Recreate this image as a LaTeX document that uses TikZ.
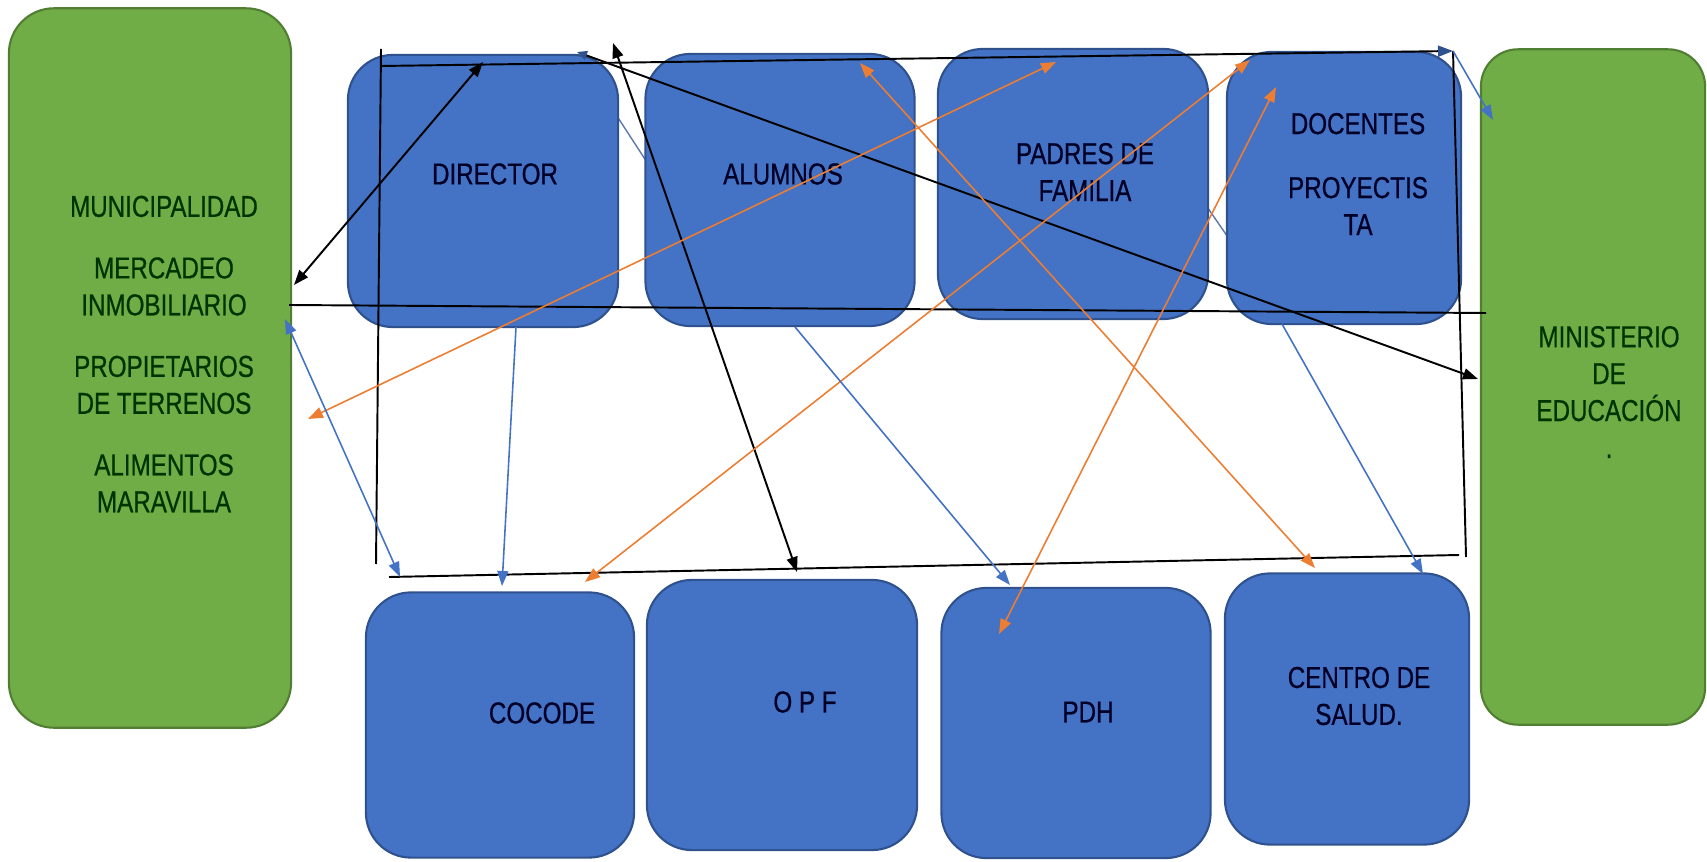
\documentclass[tikz,border=0pt]{standalone}
\usepackage{fontspec}
\setmainfont{Liberation Sans}[FakeStretch=0.8, FakeBold=0.6]
\usetikzlibrary{arrows.meta}
\definecolor{boxblue}{RGB}{68,114,196}
\definecolor{boxnavy}{RGB}{47,82,143}
\definecolor{boxgreen}{RGB}{112,173,71}
\definecolor{greenedge}{RGB}{80,126,50}
\definecolor{lineorange}{RGB}{237,125,49}
\definecolor{lineblue}{RGB}{68,114,196}

\begin{document}
\begin{tikzpicture}
      [
        x=0.01cm, y=-0.01cm,
        bbox/.style={rectangle, rounded corners=0.45cm, draw=boxnavy, fill=boxblue, line width=0.6pt},
        gbox/.style={rectangle, rounded corners=0.45cm, draw=greenedge, fill=boxgreen, line width=0.6pt},
        txt/.style={font=\fontsize{8.6}{10.5}\selectfont, align=center, text=black!85!blue},
        blk/.style={draw=black, line width=0.55pt},
        org/.style={draw=lineorange, line width=0.45pt},
        blu/.style={draw=lineblue, line width=0.45pt},
        hid/.style={draw=lineblue!60!gray, line width=0.4pt},
        tri/.tip={Triangle[length=0.15cm, width=0.11cm]},
        stri/.tip={Triangle[length=0.1cm, width=0.09cm]}
      ]
      \useasboundingbox (0,0) rectangle (1707,861);
      % lines hidden behind the boxes
      \coordinate (h1a) at (600,90);
      \coordinate (h1b) at (665,190);
      \coordinate (h2a) at (1192,185);
      \coordinate (h2b) at (1245,262);
      \draw[hid] (h1a) -- (h1b);
      \draw[hid] (h2a) -- (h2b);
      % boxes
      \node[gbox, minimum width=2.82cm, minimum height=7.19cm] (mun) at (150,368) {};
      \node[gbox, rounded corners=0.37cm, minimum width=2.24cm, minimum height=6.75cm] (min) at (1593,387) {};
      \node[bbox, minimum width=2.70cm, minimum height=2.72cm] (dir) at (483,191) {};
      \node[bbox, minimum width=2.69cm, minimum height=2.72cm] (alu) at (780,190) {};
      \node[bbox, minimum width=2.70cm, minimum height=2.70cm] (pad) at (1073,184) {};
      \node[bbox, minimum width=2.34cm, minimum height=2.72cm] (doc) at (1344,188) {};
      \node[bbox, minimum width=2.68cm, minimum height=2.65cm] (coc) at (500,725) {};
      \node[bbox, minimum width=2.70cm, minimum height=2.70cm] (opf) at (782,715) {};
      \node[bbox, minimum width=2.69cm, minimum height=2.70cm] (pdh) at (1076,723) {};
      \node[bbox, minimum width=2.44cm, minimum height=2.71cm] (cen) at (1347,709) {};
      % texts
      \node[txt, text=black!80!green] (munt) at (164,354) {MUNICIPALIDAD\\[7pt]MERCADEO\\INMOBILIARIO\\[7pt]PROPIETARIOS\\DE TERRENOS\\[7pt]ALIMENTOS\\MARAVILLA};
      \node[txt, text=black!80!green] (mint) at (1609,392) {MINISTERIO\\DE\\EDUCACIÓN\\.};
      \node[txt] (dirt) at (495,174) {DIRECTOR};
      \node[txt] (alut) at (783,174) {ALUMNOS};
      \node[txt] (padt) at (1085,172) {PADRES DE\\FAMILIA};
      \node[txt] (doct) at (1358,174) {DOCENTES\\[7.7pt]PROYECTIS\\TA};
      \node[txt] (coct) at (542,713) {COCODE};
      \node[txt] (opft) at (805,702) {O P F};
      \node[txt] (pdht) at (1088,712) {PDH};
      \node[txt] (cent) at (1359,696) {CENTRO DE\\SALUD.};
      % frame of black lines
      \coordinate (tl) at (381,66);
      \coordinate (tr) at (1453,51);
      \coordinate (lt) at (381,49);
      \coordinate (lb) at (376,564);
      \coordinate (bl) at (389,577);
      \coordinate (br) at (1459,555);
      \coordinate (rb) at (1466,557);
      \coordinate (ml) at (289,305);
      \coordinate (mr) at (1486,313);
      \draw[blk, -{tri[color=boxnavy]}] (tl) -- (tr);
      \draw[blk] (lt) -- (lb);
      \draw[blk] (bl) -- (br);
      \draw[blk] (tr) -- (rb);
      \draw[blk] (ml) -- (mr);
      % black arrows
      \coordinate (k1a) at (294,285);
      \coordinate (k1b) at (483,62);
      \coordinate (k2a) at (613,43);
      \coordinate (k2b) at (797,572);
      \coordinate (k3a) at (577,52);
      \coordinate (k3b) at (1478,379);
      \draw[blk, tri-tri] (k1a) -- (k1b);
      \draw[blk, tri-tri] (k2a) -- (k2b);
      \draw[blk, {stri[color=boxnavy]}-tri] (k3a) -- (k3b);
      % orange arrows
      \coordinate (o1a) at (308,419);
      \coordinate (o1b) at (1056,62);
      \coordinate (o2a) at (585,582);
      \coordinate (o2b) at (1250,60);
      \coordinate (o3a) at (860,63);
      \coordinate (o3b) at (1315,568);
      \coordinate (o4a) at (999,634);
      \coordinate (o4b) at (1276,87);
      \draw[org, tri-tri] (o1a) -- (o1b);
      \draw[org, tri-tri] (o2a) -- (o2b);
      \draw[org, tri-tri] (o3a) -- (o3b);
      \draw[org, tri-tri] (o4a) -- (o4b);
      % blue arrows
      \coordinate (b1a) at (285,319);
      \coordinate (b1b) at (400,577);
      \coordinate (b2a) at (516,327);
      \coordinate (b2b) at (502,586);
      \coordinate (b3a) at (795,327);
      \coordinate (b3b) at (1010,585);
      \coordinate (b4a) at (1282,324);
      \coordinate (b4b) at (1423,574);
      \coordinate (b5b) at (1493,120);
      \draw[blu, tri-tri] (b1a) -- (b1b);
      \draw[blu, -tri] (b2a) -- (b2b);
      \draw[blu, -tri] (b3a) -- (b3b);
      \draw[blu, -tri] (b4a) -- (b4b);
      \draw[blu, -tri] (tr) -- (b5b);
    \end{tikzpicture}
\end{document}
